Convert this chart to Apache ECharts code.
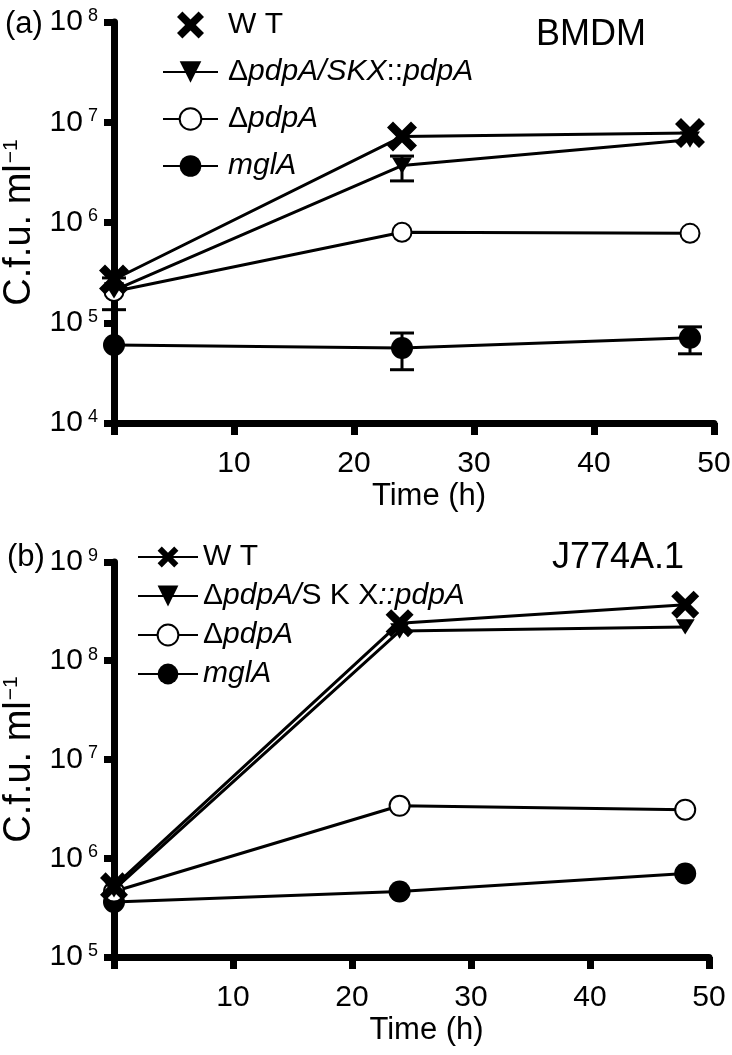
<!DOCTYPE html>
<html>
<head>
<meta charset="utf-8">
<script src="https://cdn.jsdelivr.net/npm/echarts@6/dist/echarts.min.js"></script>
<style>html,body{margin:0;padding:0;background:#fff}#c{width:732px;height:1055px}</style>
</head>
<body>
<div id="c"></div>
<script>
// ---- data ----
const times = [0, 24, 48];
const xTicks = [0, 10, 20, 30, 40, 50];

// Panel (a) BMDM
const aWT   = [2.7e5, 7.2e6, 7.8e6];
const aSKX  = [2.1e5, 3.7e6, 6.7e6];
const aPdpA = [2.05e5, 8.0e5, 7.8e5];
const aMglA = [6.0e4, 5.6e4, 7.1e4];
const aSKXLo  = [1.35e5, 2.6e6, null];
const aSKXHi  = [2.8e5, 4.6e6, null];
const aMglALo = [null, 3.4e4, 4.9e4];
const aMglAHi = [null, 7.9e4, 9.1e4];

// Panel (b) J774A.1
const bWT   = [5.2e5, 2.4e8, 3.7e8];
const bSKX  = [4.8e5, 2.0e8, 2.2e8];
const bPdpA = [4.6e5, 3.4e6, 3.1e6];
const bMglA = [3.6e5, 4.6e5, 7.0e5];

const FONT = 'Liberation Sans, Arial, sans-serif';
const XPATH = 'path://M0,2L2,0L5,3L8,0L10,2L7,5L10,8L8,10L5,7L2,10L0,8L3,5Z';
const TRI = 'path://M0,0L10,0L5,9Z';

const pts = ys => times.map((t, i) => [t, ys[i]]);
const errs = (lo, hi) => times.map((t, i) => lo[i] == null ? null : [t, lo[i], hi[i]]).filter(d => d);

function lineSeries(name, grid, ys, symbol, size, extra) {
  return Object.assign({
    name: name, type: 'line', xAxisIndex: grid, yAxisIndex: grid,
    data: pts(ys), symbol: symbol, symbolSize: size, symbolKeepAspect: true,
    lineStyle: {color: '#000', width: 3},
    itemStyle: {color: '#000'},
    showAllSymbol: true, clip: false, animation: false, z: 3
  }, extra || {});
}
function errSeries(grid, data) {
  return {
    type: 'custom', xAxisIndex: grid, yAxisIndex: grid, data: data, clip: false, z: 2,
    encode: {x: 0, y: [1, 2]}, animation: false,
    renderItem: function (params, api) {
      const x = api.value(0), lo = api.value(1), hi = api.value(2);
      const p1 = api.coord([x, lo]), p2 = api.coord([x, hi]);
      const w = 12, st = {stroke: '#000', lineWidth: 3};
      return {type: 'group', children: [
        {type: 'line', shape: {x1: p1[0], y1: p1[1], x2: p2[0], y2: p2[1]}, style: st},
        {type: 'line', shape: {x1: p1[0] - w, y1: p1[1], x2: p1[0] + w, y2: p1[1]}, style: st},
        {type: 'line', shape: {x1: p2[0] - w, y1: p2[1], x2: p2[0] + w, y2: p2[1]}, style: st}
      ]};
    }
  };
}

const supRich = {
  b: {fontSize: 30, fontFamily: FONT, color: '#000'},
  s: {fontSize: 18, fontFamily: FONT, color: '#000', verticalAlign: 'top', padding: [0, 0, 0, 5]}
};
function yAxis(grid, min, max) {
  return {
    gridIndex: grid, type: 'log', logBase: 10, min: min, max: max,
    axisLine: {show: true, lineStyle: {color: '#000', width: 7}},
    axisTick: {show: true, length: 10, lineStyle: {color: '#000', width: 7}},
    minorTick: {show: false}, splitLine: {show: false},
    axisLabel: {
      margin: 16, color: '#000', fontFamily: FONT,
      formatter: v => '{b|10}{s|' + Math.round(Math.log10(v)) + '}', rich: supRich
    },
    name: '{n|C.f.u. ml}{s|\u22121}', nameLocation: 'middle', nameGap: 66, nameRotate: 90,
    nameTextStyle: {
      rich: {
        n: {fontSize: 38, fontFamily: FONT, color: '#000'},
        s: {fontSize: 21, fontFamily: FONT, color: '#000', verticalAlign: 'top', padding: [0, 0, 0, 1]}
      }
    }
  };
}
function xAxis(grid) {
  return {
    gridIndex: grid, type: 'value', min: xTicks[0], max: xTicks[xTicks.length - 1], interval: xTicks[1] - xTicks[0],
    axisLine: {show: true, lineStyle: {color: '#000', width: 7}},
    axisTick: {show: true, length: 12, lineStyle: {color: '#000', width: 7}},
    splitLine: {show: false},
    axisLabel: {margin: 26, color: '#000', fontSize: 30, fontFamily: FONT, formatter: v => v === 0 ? '' : String(v)},
    name: 'Time (h)', nameLocation: 'middle', nameGap: 58,
    nameTextStyle: {fontSize: 31, fontFamily: FONT, color: '#000', padding: [0, 0, 0, 30]}
  };
}

const legendRich = {
  u: {fontSize: 30, fontFamily: FONT, color: '#000'},
  i: {fontSize: 30, fontFamily: FONT, color: '#000', fontStyle: 'italic'},
  U: {fontSize: 30, fontFamily: FONT, color: '#000', padding: [0, 0, 0, 5]},
  I: {fontSize: 30, fontFamily: FONT, color: '#000', fontStyle: 'italic', padding: [0, 0, 0, 5]}
};
const labelsA = {
  aWT: '{U|W T}',
  aSKX: '{U|\u0394}{i|pdpA/SKX}{u|::}{i|pdpA}',
  aPdpA: '{U|\u0394}{i|pdpA}',
  aMglA: '{I|mglA}'
};
const labelsB = {
  bWT: '{u|W T}',
  bSKX: '{u|\u0394}{i|pdpA/}{u|S K X}{i|::pdpA}',
  bPdpA: '{u|\u0394}{i|pdpA}',
  bMglA: '{i|mglA}'
};

const option = {
  backgroundColor: '#fff',
  animation: false,
  textStyle: {fontFamily: FONT},
  title: [
    {text: 'BMDM', right: 81, top: 12, textStyle: {fontSize: 36, fontWeight: 'normal', fontFamily: FONT, color: '#000'}},
    {text: 'J774A.1', right: 43, top: 535, textStyle: {fontSize: 36, fontWeight: 'normal', fontFamily: FONT, color: '#000'}},
    {text: '(a)', left: 0, top: 4, textStyle: {fontSize: 31, fontWeight: 'normal', fontFamily: FONT, color: '#000'}},
    {text: '(b)', left: 2, top: 537, textStyle: {fontSize: 31, fontWeight: 'normal', fontFamily: FONT, color: '#000'}}
  ],
  legend: [
    {
      orient: 'vertical', left: 157, top: 5, itemWidth: 55, itemHeight: 27, itemGap: 17,
      selectedMode: false,
      data: [{name: 'aWT', icon: XPATH}, 'aSKX', 'aPdpA', 'aMglA'],
      formatter: n => labelsA[n], textStyle: {rich: legendRich}
    },
    {
      orient: 'vertical', left: 132, top: 537, itemWidth: 60, itemHeight: 26, itemGap: 9,
      selectedMode: false,
      data: ['bWT', 'bSKX', 'bPdpA', 'bMglA'],
      formatter: n => labelsB[n], textStyle: {rich: legendRich}
    }
  ],
  grid: [
    {left: 114, right: 18, top: 22, height: 401, containLabel: false, outerBoundsMode: 'none'},
    {left: 114, right: 23, top: 562, height: 395, containLabel: false, outerBoundsMode: 'none'}
  ],
  xAxis: [xAxis(0), xAxis(1)],
  yAxis: [yAxis(0, 1e4, 1e8), yAxis(1, 1e5, 1e9)],
  series: [
    errSeries(0, errs(aSKXLo, aSKXHi)),
    errSeries(0, errs(aMglALo, aMglAHi)),
    lineSeries('aMglA', 0, aMglA, 'circle', 22),
    lineSeries('aPdpA', 0, aPdpA, 'emptyCircle', 19, {itemStyle: {color: '#000', borderColor: '#000', borderWidth: 3}}),
    lineSeries('aSKX', 0, aSKX, TRI, [20, 18]),
    lineSeries('aWT', 0, aWT, XPATH, 30),
    lineSeries('bMglA', 1, bMglA, 'circle', 22),
    lineSeries('bPdpA', 1, bPdpA, 'emptyCircle', 20, {itemStyle: {color: '#000', borderColor: '#000', borderWidth: 3}}),
    lineSeries('bSKX', 1, bSKX, TRI, [19, 17]),
    lineSeries('bWT', 1, bWT, XPATH, 28)
  ]
};

const chart = echarts.init(document.getElementById('c'), null, {renderer: 'canvas'});
chart.setOption(option);
</script>
</body>
</html>
